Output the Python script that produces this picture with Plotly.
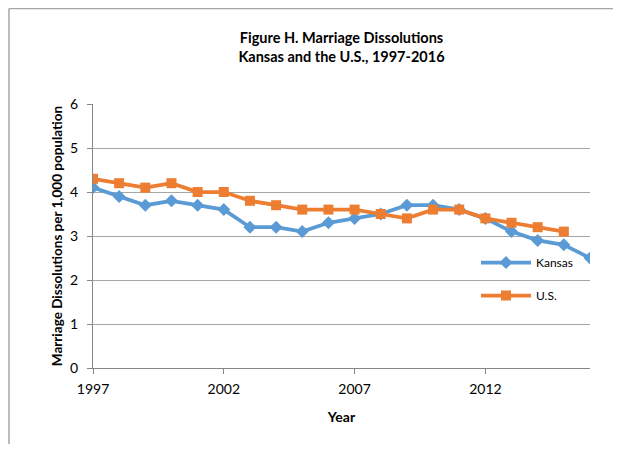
import plotly.graph_objects as go

years = list(range(1997, 2017))
kansas = [4.1, 3.9, 3.7, 3.8, 3.7, 3.6, 3.2, 3.2, 3.1, 3.3, 3.4, 3.5, 3.7, 3.7, 3.6, 3.4, 3.1, 2.9, 2.8, 2.5]
us_years = list(range(1997, 2016))
us = [4.3, 4.2, 4.1, 4.2, 4.0, 4.0, 3.8, 3.7, 3.6, 3.6, 3.6, 3.5, 3.4, 3.6, 3.6, 3.4, 3.3, 3.2, 3.1]
x_ticks = [1997, 2002, 2007, 2012]
y_ticks = [0, 1, 2, 3, 4, 5, 6]

FONT = "Lato, Calibri, 'Open Sans', sans-serif"

# page body adds an 8px offset; figure coordinates = reference pixels - 8
L, T, R, B = 85, 96, 582, 360
W, H = 606, 436
PW, PH = R - L, B - T

def px_x(x):
    return (x - 8 - L) / PW

def px_y(y):
    return (B - (y - 8)) / PH

fig = go.Figure()
fig.add_trace(go.Scatter(
    x=years, y=kansas, name="Kansas", mode="lines+markers",
    line=dict(color="#5B9BD5", width=3.75),
    marker=dict(symbol="diamond", size=10, color="#5B9BD5"),
    legendgroup="k",
))
fig.add_trace(go.Scatter(
    x=us_years, y=us, name="U.S.", mode="lines+markers",
    line=dict(color="#ED7D31", width=3.75),
    marker=dict(symbol="square", size=10, color="#ED7D31"),
    legendgroup="u",
))

fig.update_layout(
    width=W, height=H,
    margin=dict(l=L, r=W - R, t=T, b=H - B),
    paper_bgcolor="white", plot_bgcolor="white",
    font=dict(family=FONT, size=13, color="#000000"),
    title=dict(
        text="<b>Figure H. Marriage Dissolutions<br>Kansas and the U.S., 1997-2016</b>",
        x=(L + R) / 2 / W, xanchor="center", y=1 - 35 / H, yanchor="top",
        font=dict(family=FONT, size=14.5, color="#000000"),
    ),
    xaxis=dict(
        range=[1997, 2016], tickvals=x_ticks, ticktext=[str(v) for v in x_ticks],
        showgrid=False, zeroline=False, showline=True, linecolor="#868686", linewidth=1,
        ticks="outside", ticklen=5, tickcolor="#868686", ticklabelstandoff=3,
        title=dict(text="<b>Year</b>", font=dict(family=FONT, size=14), standoff=16),
        tickfont=dict(family=FONT, size=14), automargin=False,
    ),
    yaxis=dict(
        range=[0, 6], tickvals=y_ticks,
        showgrid=True, gridcolor="#A6A6A6", gridwidth=1, zeroline=False,
        showline=True, linecolor="#868686", linewidth=1,
        ticks="outside", ticklen=5, tickcolor="#868686", ticklabelstandoff=6,
        title=dict(text="<b>Marriage Dissolutions per 1,000 population</b>",
                   font=dict(family=FONT, size=13.5), standoff=4),
        tickfont=dict(family=FONT, size=14), automargin=False,
    ),
    legend=dict(
        x=px_x(476), y=px_y(248), xanchor="left", yanchor="top",
        bgcolor="rgba(0,0,0,0)", font=dict(family=FONT, size=12),
        traceorder="grouped", tracegroupgap=14, itemwidth=50,
    ),
    showlegend=True,
)

# outer chart frame (top and left edges visible in the reference)
frame = dict(color="#A6A6A6", width=1.5)
fig.add_shape(type="line", xref="paper", yref="paper",
              x0=px_x(9), x1=px_x(613), y0=px_y(8.5), y1=px_y(8.5),
              line=frame, layer="below")
fig.add_shape(type="line", xref="paper", yref="paper",
              x0=px_x(9), x1=px_x(9), y0=px_y(8.5), y1=px_y(446),
              line=frame, layer="below")

fig.write_html("out.html")
